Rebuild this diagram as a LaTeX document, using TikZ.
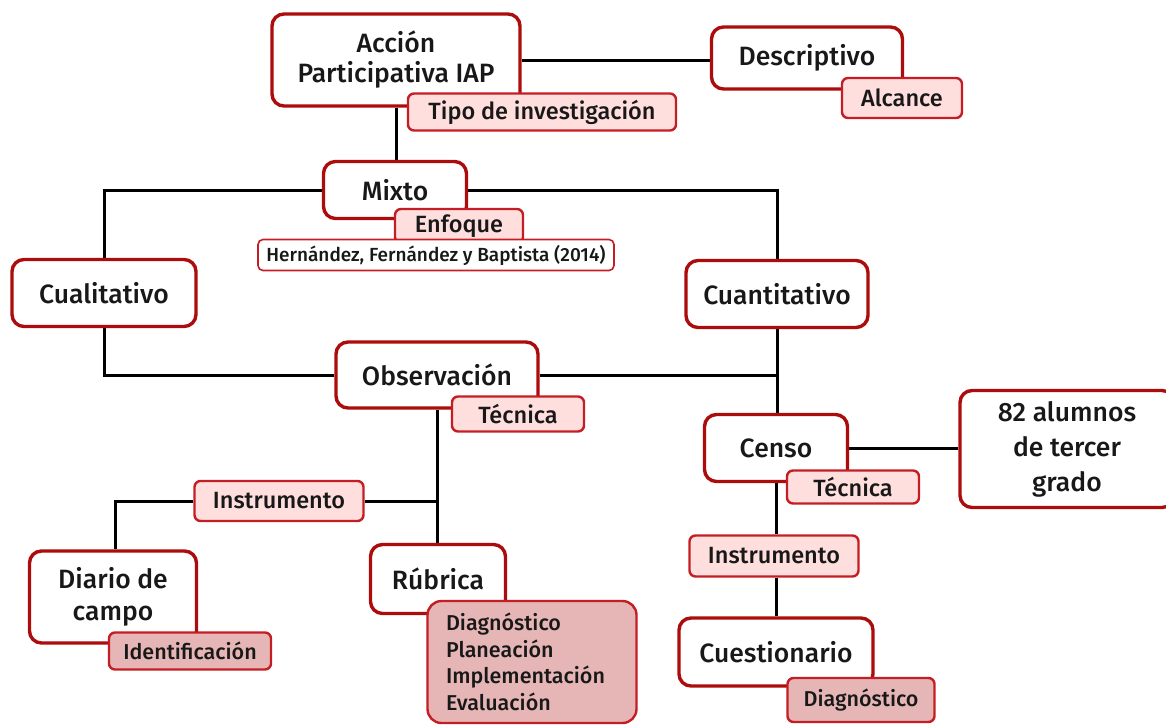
\documentclass[tikz,border=0pt]{standalone}
\usepackage{fontspec}
\setmainfont{Fira Sans}[UprightFont=* Medium]
\usetikzlibrary{backgrounds}
\definecolor{boxred}{RGB}{172,12,12}
\definecolor{tagred}{RGB}{196,30,36}
\definecolor{tagfill}{RGB}{255,222,222}
\definecolor{tagdark}{RGB}{230,182,182}
\definecolor{ink}{RGB}{24,24,24}
\tikzset{
  x=1pt, y=-1pt,
  mainbox/.style={draw=boxred, line width=3.4pt, fill=white, rounded corners=12pt,
    text=ink, align=center, inner sep=0pt, font=\fontsize{26.5}{30}\selectfont},
  tagbox/.style={draw=tagred, line width=2.4pt, fill=tagfill, rounded corners=6pt,
    text=ink, align=center, inner sep=0pt, font=\fontsize{23.5}{26}\selectfont},
  tagdarkbox/.style={tagbox, fill=tagdark},
  refbox/.style={draw=tagred, line width=1.6pt, fill=white, rounded corners=5pt,
    text=ink, inner sep=0pt, font=\fontsize{19}{21}\selectfont},
  link/.style={draw=black, line width=3pt},
}
\begin{document}
\begin{tikzpicture}
\useasboundingbox (0,0) rectangle (1166,724);

% main boxes
\node[mainbox, minimum width=248, minimum height=92] (acc) at (396,60) {Acción\\Participativa IAP};
\node[mainbox, minimum width=191, minimum height=62] (desc) at (807,58) {Descriptivo};
\node[mainbox, minimum width=143, minimum height=57] (mix) at (395,190) {Mixto};
\node[mainbox, minimum width=184, minimum height=67] (cual) at (104,293) {Cualitativo};
\node[mainbox, minimum width=182, minimum height=67] (cuant) at (777,294) {Cuantitativo};
\node[mainbox, minimum width=202, minimum height=66] (obs) at (437,375) {Observación};
\node[mainbox, minimum width=143, minimum height=67] (censo) at (776,448) {Censo};
\node[mainbox, minimum width=214, minimum height=117, font=\fontsize{26.5}{35}\selectfont] (alum) at (1067,449) {82 alumnos\\de tercer\\grado};
\node[mainbox, minimum width=167, minimum height=92, font=\fontsize{26.5}{32}\selectfont] (diario) at (113,597) {Diario de\\campo};
\node[mainbox, minimum width=135, minimum height=69] (rub) at (438,579) {Rúbrica};
\node[mainbox, minimum width=194, minimum height=68] (cuest) at (776,652) {Cuestionario};

% labels attached to the boxes
\node[tagbox, minimum width=268, minimum height=37] (tipo) at (542,112) {Tipo de investigación};
\node[tagbox, minimum width=120, minimum height=40] (alc) at (902,98) {Alcance};
\node[tagbox, minimum width=128, minimum height=34] (enf) at (459,226) {Enfoque};
\node[refbox, minimum width=356, minimum height=31] (ref) at (436,255) {Hernández, Fernández y Baptista (2014)};
\node[tagbox, minimum width=132, minimum height=35] (tec1) at (518,414) {Técnica};
\node[tagbox, minimum width=169, minimum height=40] (ins1) at (279,501) {Instrumento};
\node[tagbox, minimum width=132, minimum height=33] (tec2) at (853,487) {Técnica};
\node[tagbox, minimum width=169, minimum height=41] (ins2) at (774,556) {Instrumento};
\node[tagdarkbox, minimum width=162, minimum height=37, font=\fontsize{21.5}{24}\selectfont] (ident) at (190,651) {Identificación};
\node[tagdarkbox, text width=172, inner xsep=18.5, minimum height=122, rounded corners=14pt, align=left, font=\fontsize{21.5}{26.5}\selectfont] (fases) at (532,662) {Diagnóstico\\Planeación\\Implementación\\Evaluación};
\node[tagdarkbox, minimum width=147, minimum height=44, font=\fontsize{21.5}{24}\selectfont] (diag) at (861,700) {Diagnóstico};

% connectors
\begin{scope}[on background layer]
\draw[link] (acc.east) -- (desc.west |- acc.east);
\draw[link] (acc.south) -- (acc.south |- mix.north);
\draw[link] (mix.west) -| (cual.north);
\draw[link] (mix.east) -| (cuant.north);
\draw[link] (cual.south) |- (obs.west);
\draw[link] (cuant.south) -- (cuant.south |- censo.north);
\draw[link] (obs.east) -- (obs.east -| cuant.south);
\draw[link] (obs.south) -- (obs.south |- rub.north);
\draw[link] (ins1.east) -- (ins1.east -| obs.south);
\draw[link] (ins1.west) -| ([xshift=2pt]diario.north);
\draw[link] (censo.east) -- (alum.west |- censo.east);
\draw[link] (censo.south) -- (censo.south |- ins2.north);
\draw[link] (ins2.south -| censo.south) -- (censo.south |- cuest.north);
\end{scope}
\end{tikzpicture}
\end{document}
